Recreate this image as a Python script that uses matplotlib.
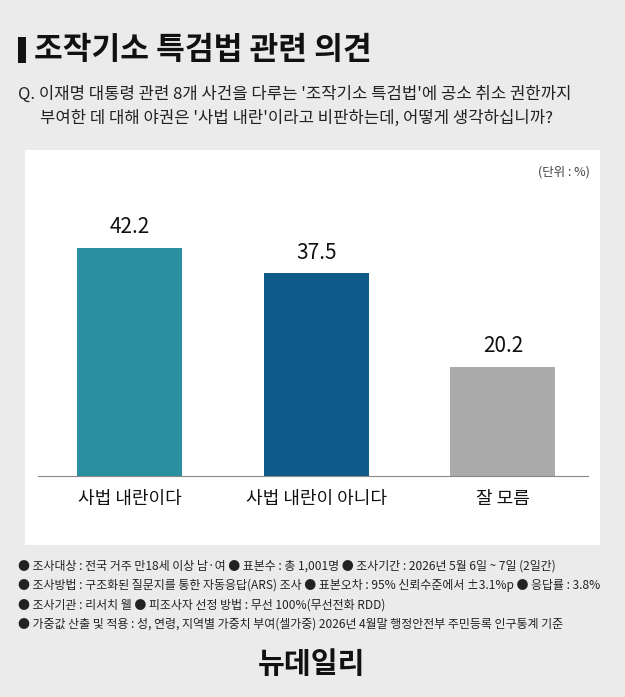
import matplotlib
matplotlib.use("Agg")
import matplotlib.pyplot as plt
from matplotlib.patches import Rectangle

plt.rcParams['font.family'] = ['Noto Sans CJK KR', 'DejaVu Sans']

categories = ['사법 내란이다', '사법 내란이 아니다', '잘 모름']
values = [42.2, 37.5, 20.2]
colors = ['#2a8fa0', '#0e5a89', '#ababab']

W, H = 625, 697
fig = plt.figure(figsize=(W/100, H/100), dpi=100)
fig.patch.set_facecolor('#ebebeb')

def fx(x): return x / W
def fy(y): return 1 - y / H

# white panel
fig.patches.append(Rectangle((fx(25), fy(545)), fx(600)-fx(25), fy(150)-fy(545),
                             transform=fig.transFigure, facecolor='white', edgecolor='none', zorder=-5))

# title
fig.patches.append(Rectangle((fx(18), fy(63)), fx(8), fy(37)-fy(63),
                             transform=fig.transFigure, facecolor='#111111', edgecolor='none'))
fig.text(fx(34), fy(50), '조작기소 특검법 관련 의견', fontsize=22.5, fontweight='bold', va='center', color='#111111')
fig.text(fx(18), fy(94), "Q. 이재명 대통령 관련 8개 사건을 다루는 '조작기소 특검법'에 공소 취소 권한까지", fontsize=12, va='center', color='#222222')
fig.text(fx(40), fy(118), "부여한 데 대해 야권은 '사법 내란'이라고 비판하는데, 어떻게 생각하십니까?", fontsize=12, va='center', color='#222222')
fig.text(fx(590), fy(172), '(단위 : %)', fontsize=9, va='center', ha='right', color='#444444')

# axes
ax = fig.add_axes([fx(38), fy(476), fx(588)-fx(38), fy(200)-fy(476)])
ax.set_facecolor('none')
x = list(range(len(categories)))
bars = ax.bar(x, values, width=0.563, color=colors)
ax.set_xlim(-0.493, 2.456)
ax.set_ylim(0, 51.1)
for xi, v in zip(x, values):
    ax.text(xi, v + 1.8, f'{v:.1f}', ha='center', va='bottom', fontsize=15, color='#111111')
ax.set_xticks(x)
ax.set_xticklabels(categories, fontsize=13, color='#111111')
ax.tick_params(axis='x', length=0, pad=10)
ax.set_yticks([])
for s in ['top', 'left', 'right']:
    ax.spines[s].set_visible(False)
ax.spines['bottom'].set_color('#888888')

notes = [
    '● 조사대상 : 전국 거주 만18세 이상 남·여 ● 표본수 : 총 1,001명 ● 조사기간 : 2026년 5월 6일 ~ 7일 (2일간)',
    '● 조사방법 : 구조화된 질문지를 통한 자동응답(ARS) 조사 ● 표본오차 : 95% 신뢰수준에서 ±3.1%p ● 응답률 : 3.8%',
    '● 조사기관 : 리서치 웰 ● 피조사자 선정 방법 : 무선 100%(무선전화 RDD)',
    '● 가중값 산출 및 적용 : 성, 연령, 지역별 가중치 부여(셀가중) 2026년 4월말 행정안전부 주민등록 인구통계 기준',
]
for i, n in enumerate(notes):
    fig.text(fx(18), fy(566 + i*19.5), n, fontsize=8.6, va='center', color='#222222')

fig.text(fx(312), fy(664), '뉴데일리', fontsize=21, fontweight='bold', ha='center', va='center', color='#111111')

fig.savefig('out.png', dpi=100, facecolor=fig.get_facecolor())
